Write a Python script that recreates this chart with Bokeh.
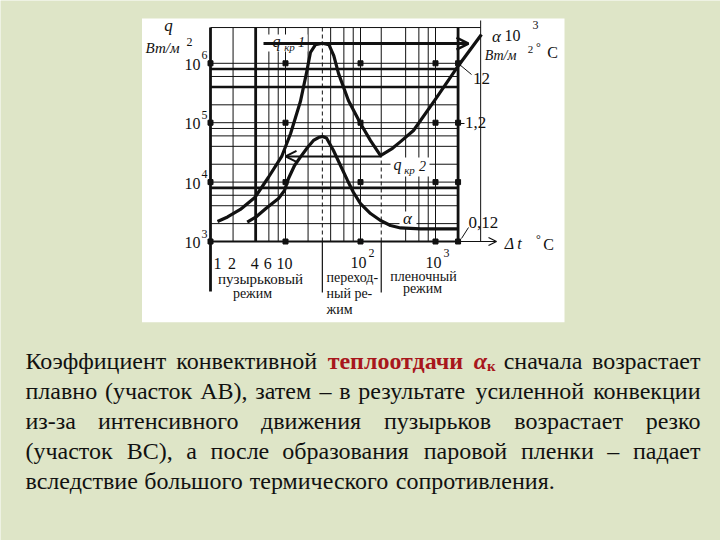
from bokeh.plotting import figure
from bokeh.models import Range1d, LogScale, Arrow, OpenHead
from bokeh.core.properties import value
from bokeh.embed import file_html
from bokeh.resources import INLINE

# ---------------- chart data ----------------
# boiling curve: heat flux q, W/m2, against temperature head dt, C
BOIL_DT = [1.24, 1.69, 2.5, 3.9, 5.9, 8.9, 11.7, 15.8, 19.1, 21.5, 25, 31, 38, 44, 51,
           69, 100, 136, 185, 267, 342, 509, 970, 2030, 4100]
BOIL_Q = [2170, 2590, 3460, 5500, 11950, 27000, 65800, 227000, 700000, 1520000, 2050000,
          2180000, 2050000, 1350000, 670000, 236000, 97000, 50000, 28000, 37000, 48000,
          74000, 236000, 920000, 3050000]
# heat-transfer coefficient alpha, 10^3 W/(m2 C)
ALPHA_DT = [3.09, 4.11, 5.58, 8.07, 9.7, 10.96, 13.2, 15.8, 19.65, 23.6, 27.5, 31.1, 35.2,
            43.6, 54.1, 67.1, 80.7, 100, 136, 185, 251, 342, 631, 2000]
ALPHA_K = [0.0254, 0.0316, 0.044, 0.0635, 0.0867, 0.138, 0.228, 0.315, 0.459, 0.602, 0.676,
           0.703, 0.663, 0.408, 0.228, 0.128, 0.0802, 0.0523, 0.0355, 0.0271, 0.0223, 0.0203,
           0.0196, 0.0196]
ALPHA_PER_Q = 12 / 1e6          # right scale: 12 <-> 10^6

Q_KR1, DT_KR1 = 2.15e6, 31
Q_KR2, DT_KR2 = 2.7e4, 189

Y_DECADES = [1e3, 1e4, 1e5, 1e6]
Y_EXP = ["3", "4", "5", "6"]
X_TICKS = [2, 4, 6, 10]
X_TICK_LABELS = ["2", "4", "6", "10"]
X_FIRST, X_FIRST_LABEL = 1, "1"
X_DECADES = [100, 1000]
X_DEC_EXP = ["2", "3"]
ALPHA_TICKS = [12, 1.2]
ALPHA_TICK_LABELS = ["12", "1,2"]

GRID_DT = [2, 6, 8, 10, 20, 40, 60, 80, 100, 400, 600, 800, 1000]
HEAVY_DT = [1, 4, 2000]
GRID_Q = [2e3, 4e3, 6e3, 1e4, 2e4, 4e4, 6e4, 8e4, 1e5, 2e5, 6e5, 1e6]
HEAVY_Q = [8e3, 4e5, 8e5]
DOT_DT = [1, 10, 100, 1000, 2000]
DT_MIN, DT_MAX, DT_FAR = 1, 2000, 4000
Q_MIN, Q_TOP = 1e3, 4e6

# ---------------- layout ----------------
GREEN = "#dee5c7"
INK = "#111111"
RED = "#a8161c"
SERIF = "Liberation Serif, DejaVu Serif, serif"
FIG_W, FIG_H, MARGIN = 720, 540, 0
X1_PX, X_DEC_PX = 210.0, 75.0      # page x of dt=1, px per decade
Y3_PX, Y_DEC_PX = 241.0, 59.4      # page y of q=1e3, px per decade


def dt_at(px):
    return 10 ** ((px - X1_PX) / X_DEC_PX)


def q_at(py):
    return 10 ** (3 + (Y3_PX - py) / Y_DEC_PX)


p = figure(width=FIG_W, height=FIG_H, x_axis_type="log", y_axis_type="log",
           x_range=Range1d(dt_at(MARGIN), dt_at(MARGIN + FIG_W)),
           y_range=Range1d(q_at(MARGIN + FIG_H), q_at(MARGIN)),
           x_axis_location=None, y_axis_location=None,
           output_backend="svg", toolbar_location=None, min_border=0)
p.extra_y_ranges = {"alpha": Range1d(q_at(MARGIN + FIG_H) * ALPHA_PER_Q, q_at(MARGIN) * ALPHA_PER_Q)}
p.extra_y_scales = {"alpha": LogScale()}
p.grid.visible = False
p.outline_line_color = None
p.background_fill_color = GREEN
p.border_fill_color = GREEN

# white card behind the chart
p.quad(left=[dt_at(141.5)], right=[dt_at(564)], top=[q_at(18)], bottom=[q_at(321.7)],
       fill_color="white", line_color=None)

# grid
n = len(GRID_DT)
p.segment(x0=GRID_DT, x1=GRID_DT, y0=[Q_MIN] * n, y1=[Q_TOP] * n, line_color=INK, line_width=1)
m = len(GRID_Q)
p.segment(x0=[DT_MIN] * m, x1=[DT_MAX] * m, y0=GRID_Q, y1=GRID_Q, line_color=INK, line_width=1)
p.segment(x0=[DT_MIN] * 3, x1=[DT_MAX] * 3, y0=HEAVY_Q, y1=HEAVY_Q, line_color=INK, line_width=2.6)
p.segment(x0=HEAVY_DT, x1=HEAVY_DT, y0=[Q_MIN] * 3, y1=[Q_TOP] * 3, line_color=INK, line_width=2.8)
p.segment(x0=[DT_MIN], x1=[DT_FAR], y0=[Q_TOP], y1=[Q_TOP], line_color=INK, line_width=1)
p.segment(x0=[DT_FAR], x1=[DT_FAR], y0=[Q_MIN], y1=[q_at(20)], line_color=INK, line_width=1)
p.segment(x0=[DT_KR1], x1=[DT_KR1], y0=[Q_MIN], y1=[Q_TOP], line_color=INK, line_width=1,
          line_dash="4 3")
p.segment(x0=[DT_KR2], x1=[DT_KR2], y0=[Q_MIN], y1=[Q_KR2], line_color=INK, line_width=1,
          line_dash="4 3")
p.segment(x0=[DT_KR2], x1=[DT_KR2], y0=[Q_KR2], y1=[Q_TOP], line_color=INK, line_width=1)
# x axis and regime separators below it
p.segment(x0=[DT_MIN], x1=[DT_MAX], y0=[Q_MIN], y1=[Q_MIN], line_color=INK, line_width=2)
p.segment(x0=[DT_MIN], x1=[DT_MIN], y0=[Q_MIN], y1=[q_at(291)], line_color=INK, line_width=2.8)
p.segment(x0=[DT_KR1, DT_KR2], x1=[DT_KR1, DT_KR2], y0=[Q_MIN] * 2, y1=[q_at(292)] * 2,
          line_color=INK, line_width=1.2)
p.add_layout(Arrow(x_start=DT_MAX, y_start=Q_MIN, x_end=dt_at(496), y_end=Q_MIN,
                   line_width=1.2, line_color=INK,
                   end=OpenHead(size=8, line_width=1.2, line_color=INK)))

# decade dots
dx = [d for q in Y_DECADES for d in DOT_DT]
dy = [q for q in Y_DECADES for d in DOT_DT]
p.scatter(dx, dy, marker="square", size=5, color=INK)

# critical flux markers
p.add_layout(Arrow(x_start=dt_at(263), y_start=Q_KR1, x_end=dt_at(468), y_end=Q_KR1,
                   line_width=3, line_color=INK,
                   end=OpenHead(size=12, line_width=2.5, line_color=INK)))
p.add_layout(Arrow(x_start=DT_KR2, y_start=Q_KR2, x_end=10, y_end=Q_KR2,
                   line_width=2, line_color=INK,
                   end=OpenHead(size=11, line_width=2, line_color=INK)))

# white patches under in-plot labels
for l, r, t, b in [(267, 307, 34, 51), (390, 429, 157, 176), (399, 416, 211, 227)]:
    p.quad(left=[dt_at(l)], right=[dt_at(r)], top=[q_at(t)], bottom=[q_at(b)],
           fill_color="white", line_color=None)

# curves
p.line(BOIL_DT, BOIL_Q, line_width=3.2, line_color=INK, line_join="round")
p.line(ALPHA_DT, ALPHA_K, y_range_name="alpha", line_width=3.2, line_color=INK, line_join="round")

# right-side leaders
p.segment(x0=[dt_at(459), dt_at(461), DT_MAX], y0=[q_at(64), q_at(238), q_at(123)],
          x1=[dt_at(471), dt_at(468), dt_at(464)], y1=[q_at(74), q_at(227), q_at(123)],
          line_color=INK, line_width=1)


def txt(px, py, s, size, style="normal", align="center", base="middle", color=INK):
    p.text(x=[dt_at(px)], y=[q_at(py)], text=[s], text_font=value(SERIF),
           text_font_size=value(f"{size}px"), text_font_style=style,
           text_align=align, text_baseline=base, text_color=color)


def tick_text(xs, ys, labels, size, xo, yo, align, y_range_name="default"):
    p.text(x=xs, y=ys, text=labels, x_offset=xo, y_offset=yo, text_font=value(SERIF),
           text_font_size=value(f"{size}px"), text_align=align, text_baseline="middle",
           text_color=INK, y_range_name=y_range_name)


# left q axis
tick_text([DT_MIN] * 4, Y_DECADES, ["10"] * 4, 16, -10, 1, "right")
tick_text([DT_MIN] * 4, Y_DECADES, Y_EXP, 12, -9, -8, "left")
# bottom dt axis
tick_text([X_FIRST], [Q_MIN], [X_FIRST_LABEL], 16, 7, 22, "center")
tick_text(X_TICKS, [Q_MIN] * len(X_TICKS), X_TICK_LABELS, 16, -1, 22, "center")
tick_text(X_DECADES, [Q_MIN] * 2, ["10", "10"], 16, 6, 21, "right")
tick_text(X_DECADES, [Q_MIN] * 2, X_DEC_EXP, 12, 8, 11, "left")
# right alpha axis
tick_text([DT_MAX], [ALPHA_TICKS[0]], [ALPHA_TICK_LABELS[0]], 17, 15, 15, "left", "alpha")
tick_text([DT_MAX], [ALPHA_TICKS[1]], [ALPHA_TICK_LABELS[1]], 17, 7, 0, "left", "alpha")
txt(468, 222, "0,12", 17, align="left")

# axis titles
txt(168, 25, "q", 17, "italic")
txt(162, 47, "Вт/м", 15, "italic")
txt(189, 41, "2", 12)
txt(496, 36, "α", 17, "italic")
txt(512, 35, "10", 16)
txt(535, 24, "3", 12)
txt(500, 55, "Вт/м", 14, "italic")
txt(530, 49, "2", 11)
txt(538, 46, "°", 12)
txt(552, 52, "C", 16)
txt(509, 243, "Δ", 16, "italic")
txt(519, 243, "t", 16, "italic")
txt(538, 238, "°", 12)
txt(548, 244, "C", 16)

# in-plot labels
txt(276, 41, "q", 16, "italic")
txt(289, 46, "кр", 11, "italic")
txt(301, 41, "1", 14, "italic")
txt(397, 164, "q", 16, "italic")
txt(409, 169, "кр", 11, "italic")
txt(422, 165, "2", 14, "italic")
txt(407, 218, "α", 17, "italic")

# regimes
txt(260, 278, "пузырьковый", 15)
txt(252, 293, "режим", 14)
txt(326, 277, "переход-", 14, align="left")
txt(326, 293, "ный ре-", 14, align="left")
txt(326, 309, "жим", 14, align="left")
txt(423, 276, "пленочный", 14)
txt(422, 288, "режим", 14)

# ---------------- slide paragraph (justified) ----------------
FS = 24
PARA_LEFT, PARA_RIGHT = 25.0, 700.0
BASE0, LEAD = 360.0, 30.2
W = {'а': 444, 'б': 509, 'в': 472, 'г': 410, 'д': 509, 'е': 444, 'ж': 691, 'з': 395, 'и': 535,
     'й': 535, 'к': 486, 'л': 499, 'м': 633, 'н': 535, 'о': 500, 'п': 535, 'р': 500, 'с': 444,
     'т': 437, 'у': 500, 'ф': 648, 'х': 500, 'ц': 535, 'ч': 503, 'ш': 770, 'щ': 770, 'ъ': 517,
     'ы': 672, 'ь': 456, 'э': 429, 'ю': 747, 'я': 490, 'А': 722, 'В': 667, 'С': 667, 'К': 667,
     '(': 333, ')': 333, ',': 250, '.': 250, '-': 333, '–': 500, 'α': 520}
STYLE = {
    "n": dict(size=FS, style="normal", color=INK, wf=1.0, dy=0.0),
    "b": dict(size=FS, style="bold", color=RED, wf=1.07, dy=0.0),
    "a": dict(size=FS, style="bold italic", color=RED, wf=1.07, dy=0.0),
    "k": dict(size=FS * 0.62, style="bold", color=RED, wf=1.07, dy=5.0),
}


def plain(s):
    return [[(w, "n")] for w in s.split()]


PARA = [
    plain("Коэффициент конвективной") + [[("теплоотдачи", "b")], [("α", "a"), ("к", "k")]]
    + plain("сначала возрастает"),
    plain("плавно (участок АВ), затем – в результате усиленной конвекции"),
    plain("из-за интенсивного движения пузырьков возрастает резко"),
    plain("(участок ВС), а после образования паровой пленки – падает"),
    plain("вследствие большого термического сопротивления."),
]


def run_w(t, st):
    s = STYLE[st]
    return sum(W.get(c, 500) for c in t) / 1000.0 * s["size"] * s["wf"]


runs = {k: dict(x=[], y=[], text=[], align=[]) for k in STYLE}
for i, tokens in enumerate(PARA):
    base = BASE0 + LEAD * i
    widths = [sum(run_w(t, st) for t, st in tok) for tok in tokens]
    justified = i < len(PARA) - 1
    gap = (PARA_RIGHT - PARA_LEFT - sum(widths)) / (len(tokens) - 1) if justified else 0.25 * FS
    x = PARA_LEFT
    for j, tok in enumerate(tokens):
        last = justified and j == len(tokens) - 1
        for t, st in tok:
            r = runs[st]
            r["x"].append(dt_at(PARA_RIGHT if last else x))
            r["y"].append(q_at(base + STYLE[st]["dy"]))
            r["text"].append(t)
            r["align"].append("right" if last else "left")
            x += run_w(t, st)
        x += gap

for k, r in runs.items():
    if not r["x"]:
        continue
    s = STYLE[k]
    p.text(x="x", y="y", text="text", text_align="align", source=r,
           text_font=value(SERIF), text_font_size=value(f"{s['size']}px"),
           text_font_style=s["style"], text_color=s["color"], text_baseline="alphabetic")

html = file_html(p, INLINE, title="Кипение")
html = html.replace("<body>", f'<body style="background-color:{GREEN};">', 1)
with open("out.html", "w", encoding="utf-8") as f:
    f.write(html)
